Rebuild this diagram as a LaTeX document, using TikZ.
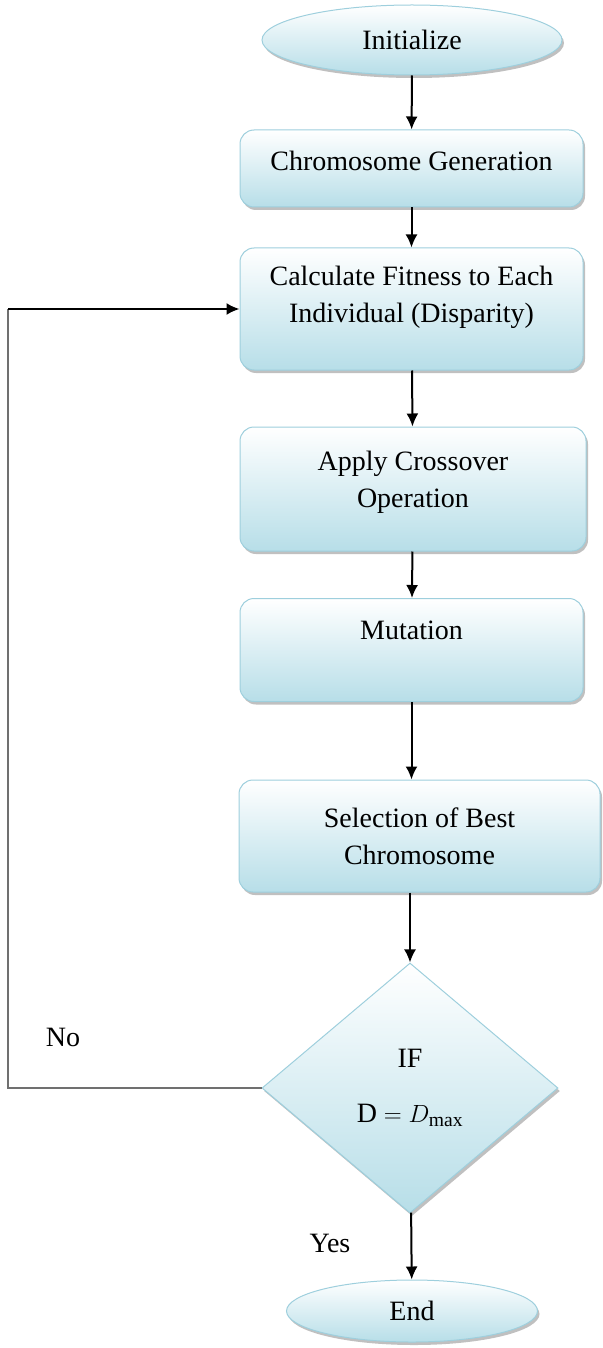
\documentclass[tikz,border=0pt]{standalone}
\usepackage{fontspec}
\setmainfont{Liberation Serif}
\usetikzlibrary{shapes.geometric,arrows.meta,shadows}
\definecolor{boxblue}{RGB}{183,222,232}
\definecolor{boxedge}{RGB}{158,207,221}
\definecolor{loopgray}{RGB}{112,112,112}
\begin{document}
\begin{tikzpicture}[x=1pt,y=-1pt,
    every node/.style={font=\fontsize{28}{37}\selectfont},
    shiny/.style={draw=boxedge,line width=1pt,top color=white,bottom color=boxblue,
      drop shadow={shadow xshift=2pt,shadow yshift=-3pt,opacity=0.45,fill=black!55}},
    termbox/.style={shiny,ellipse,inner sep=0pt},
    stepbox/.style={shiny,rectangle,rounded corners=14pt,align=center,inner sep=0pt},
    testbox/.style={shiny,diamond,align=center,inner sep=0pt,minimum width=296pt,minimum height=250pt},
    flow/.style={line width=2pt,-{Latex[length=13pt,width=12pt]}}]
  \useasboundingbox (0,0) rectangle (602,1348);
  % terminals
  \node[termbox,minimum width=300pt,minimum height=70pt] (init) at (412,40) {Initialize};
  \node[termbox,minimum width=251pt,minimum height=62pt] (end) at (412,1311) {End};
  % process steps
  \node[stepbox,minimum width=343pt,minimum height=77pt,text depth=16pt] (chrom) at (411.5,168.5)
    {Chromosome Generation};
  \node[stepbox,minimum width=343pt,minimum height=122pt,text depth=30pt] (calc) at (411.5,309)
    {Calculate Fitness to Each\\Individual (Disparity)};
  \node[stepbox,minimum width=346pt,minimum height=124pt,text depth=20pt] (apply) at (413,489)
    {Apply Crossover\\Operation};
  \node[stepbox,minimum width=343pt,minimum height=103pt,text depth=40pt] (mut) at (411.5,650)
    {Mutation};
  \node[stepbox,minimum width=361pt,minimum height=112pt] (sel) at (419.5,836)
    {Selection of Best\\Chromosome};
  % decision
  \node[testbox] (dec) at (410,1088) {IF\\[18pt]$\mathrm{D} = D_{\max}$};
  \node (no) at (63,1037) {No};
  \node (yes) at (330,1243) {Yes};
  \coordinate (back) at (8,309);
  % connectors
  \draw[flow] (init) -- (chrom);
  \draw[flow] (chrom) -- (calc);
  \draw[flow] (calc) -- (apply);
  \draw[flow] (apply) -- (mut);
  \draw[flow] (mut) -- (sel.north -| mut);
  \draw[flow] (sel.south -| dec) -- (dec);
  \draw[flow] (dec) -- (end);
  \draw[loopgray,line width=2pt] (dec.west) -| (back);
  \draw[flow] (back) -- (calc.west);
\end{tikzpicture}
\end{document}
